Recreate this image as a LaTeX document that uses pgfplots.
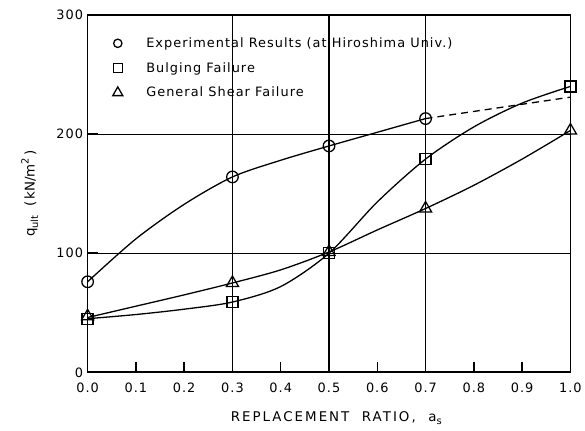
\documentclass[border=0pt]{standalone}
\usepackage{pgfplots}
\pgfplotsset{compat=1.18}
\usepackage{fontspec}
\setmainfont{DejaVu Sans}
\newcommand{\sub}[1]{\raisebox{-3.5bp}{\fontsize{10}{10}\selectfont #1}}
\newcommand{\sups}[1]{\raisebox{6bp}{\fontsize{10}{10}\selectfont #1}}
\begin{document}
\begin{tikzpicture}
\begin{axis}[
  scale only axis, width=485bp, height=359bp,
  xmin=0, xmax=1, ymin=0, ymax=300,
  axis line style={line width=1.8bp},
  xtick={0,0.1,0.2,0.3,0.4,0.5,0.6,0.7,0.8,0.9,1.0},
  xticklabels={0.0,0.1,0.2,0.3,0.4,0.5,0.6,0.7,0.8,0.9,1.0},
  ytick={0,100,200,300},
  yticklabels={0,100,200,300},
  xtick pos=lower, ytick pos=left,
  tick align=inside, major tick length=10bp,
  tick style={black, line width=1.5bp},
  ymajorgrids, major grid style={black, line width=1.1bp},
  extra x ticks={0.3,0.5,0.7}, extra x tick labels={},
  extra x tick style={xmajorgrids=true, ymajorgrids=false, major grid style={black, line width=1.5bp}},
  tick label style={font=\fontsize{13}{15}\selectfont\addfontfeatures{LetterSpace=8}},
  xticklabel style={yshift=-7bp},
  yticklabel style={xshift=-1bp},
  xlabel={\addfontfeatures{LetterSpace=15}REPLACEMENT\ \ RATIO,\ \ a\sub{s}},
  xlabel style={font=\fontsize{13.5}{15}\selectfont, at={(axis description cs:0.515,-0.1)}, anchor=north},
  ylabel={q\sub{ult}\ \ (\,kN/m\sups{2}\,)},
  ylabel style={font=\fontsize{13.5}{15}\selectfont, at={(axis description cs:-0.095,0.5)}, anchor=south},
  legend style={at={(axis description cs:0.034,0.948)}, anchor=north west, draw=none, fill=none,
    font=\fontsize{13}{15}\selectfont\addfontfeatures{LetterSpace=8}, row sep=9.5bp},
  legend cell align=left,
  legend image code/.code={\path (0bp,0bp) (36bp,0bp); \draw[mark repeat=2,mark phase=2,#1] plot coordinates {(0bp,0bp)(10bp,0bp)(20bp,0bp)};},
]
\addlegendimage{only marks, mark=o, mark size=4.2bp, line width=1.3bp}
\addlegendentry{Experimental Results (at Hiroshima Univ.)}
\addlegendimage{only marks, mark=square, mark size=4.5bp, line width=1.3bp}
\addlegendentry{Bulging Failure}
\addlegendimage{only marks, mark=triangle, mark size=5.8bp, line width=1.3bp}
\addlegendentry{General Shear Failure}

% short inward tick marks on the bottom axis
\pgfplotsinvokeforeach{0.1,0.2,0.4,0.6,0.8,0.9}{
  \draw[black, line width=1.5bp] (axis cs:#1,0) -- ++(0,10bp);
}

% ---- curves ----
% Experimental results, solid
\addplot[forget plot, black, line width=1.3bp, smooth, no marks]
 coordinates {(0.0,76) (0.1,112) (0.2,141) (0.3,164) (0.4,178) (0.5,190) (0.6,201.5) (0.7,213)};
% Experimental extrapolation, dashed
\addplot[forget plot, black, line width=1.3bp, dash pattern=on 7bp off 5bp]
 coordinates {(0.7,213) (1.0,231)};
% Bulging failure
\addplot[forget plot, black, line width=1.3bp, smooth, no marks]
 coordinates {(0.0,45) (0.1,48.5) (0.2,53) (0.3,59) (0.4,72) (0.5,100) (0.6,143) (0.7,179) (0.8,206) (0.9,226) (1.0,240)};
% General shear failure
\addplot[forget plot, black, line width=1.3bp, smooth, no marks]
 coordinates {(0.0,46) (0.1,55.5) (0.2,65) (0.3,75) (0.4,86) (0.5,101) (0.6,119.5) (0.7,137.5) (0.8,157) (0.9,179) (1.0,203)};

% ---- data points ----
\addplot[forget plot, only marks, mark=o, mark size=5.8bp, line width=1.3bp, mark options={fill=white}]
 coordinates {(0.0,76) (0.3,164) (0.5,190) (0.7,213)};
\addplot[forget plot, only marks, mark=square, mark size=5.5bp, line width=1.3bp, mark options={fill=white}]
 coordinates {(0.0,45) (0.3,59) (0.5,100) (0.7,179) (1.0,240)};
\addplot[forget plot, only marks, mark=triangle, mark size=7bp, line width=1.3bp, mark options={fill=white}]
 coordinates {(0.0,47) (0.3,75) (0.5,101) (0.7,137.5) (1.0,203)};
\end{axis}
\path (current axis.south west) ++(-88bp,-58bp) rectangle ++(585bp,432bp);
\end{tikzpicture}
\end{document}
